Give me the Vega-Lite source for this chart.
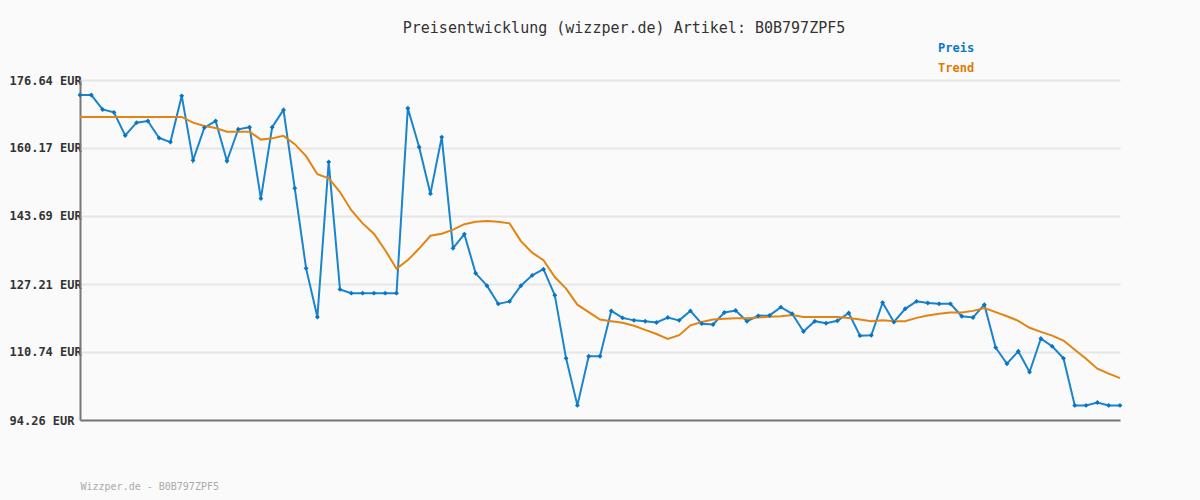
{
  "$schema": "https://vega.github.io/schema/vega-lite/v6.json",
  "width": 1040,
  "height": 340,
  "autosize": {"type": "none"},
  "padding": {"left": 80, "top": 80, "right": 80, "bottom": 80},
  "background": "#fafafa",
  "title": {
    "text": "Preisentwicklung (wizzper.de) Artikel: B0B797ZPF5",
    "font": "DejaVu Sans Mono",
    "fontSize": 15,
    "fontWeight": "normal",
    "color": "#333333",
    "anchor": "middle",
    "frame": "group",
    "baseline": "middle",
    "dx": 24,
    "offset": -1
  },
  "config": {
    "view": {"stroke": null},
    "font": "DejaVu Sans Mono"
  },
  "data": {
    "values": [
      {"i": 0, "Preis": 173.0, "Trend": 167.7},
      {"i": 1, "Preis": 173.0, "Trend": 167.7},
      {"i": 2, "Preis": 169.5, "Trend": 167.7},
      {"i": 3, "Preis": 168.8, "Trend": 167.7},
      {"i": 4, "Preis": 163.2, "Trend": 167.7},
      {"i": 5, "Preis": 166.3, "Trend": 167.7},
      {"i": 6, "Preis": 166.7, "Trend": 167.7},
      {"i": 7, "Preis": 162.6, "Trend": 167.7},
      {"i": 8, "Preis": 161.6, "Trend": 167.7},
      {"i": 9, "Preis": 172.8, "Trend": 167.7},
      {"i": 10, "Preis": 157.2, "Trend": 166.3},
      {"i": 11, "Preis": 165.1, "Trend": 165.5},
      {"i": 12, "Preis": 166.7, "Trend": 165.0},
      {"i": 13, "Preis": 157.0, "Trend": 164.1},
      {"i": 14, "Preis": 164.7, "Trend": 164.1},
      {"i": 15, "Preis": 165.2, "Trend": 164.1},
      {"i": 16, "Preis": 147.9, "Trend": 162.2},
      {"i": 17, "Preis": 165.2, "Trend": 162.5},
      {"i": 18, "Preis": 169.4, "Trend": 163.1},
      {"i": 19, "Preis": 150.4, "Trend": 161.1},
      {"i": 20, "Preis": 131.0, "Trend": 158.2},
      {"i": 21, "Preis": 119.2, "Trend": 153.8},
      {"i": 22, "Preis": 156.8, "Trend": 152.8},
      {"i": 23, "Preis": 125.9, "Trend": 149.5},
      {"i": 24, "Preis": 125.0, "Trend": 145.1},
      {"i": 25, "Preis": 125.0, "Trend": 141.9},
      {"i": 26, "Preis": 125.0, "Trend": 139.4},
      {"i": 27, "Preis": 125.0, "Trend": 135.4},
      {"i": 28, "Preis": 125.0, "Trend": 130.9},
      {"i": 29, "Preis": 169.8, "Trend": 133.0},
      {"i": 30, "Preis": 160.4, "Trend": 135.8},
      {"i": 31, "Preis": 149.1, "Trend": 138.9},
      {"i": 32, "Preis": 162.8, "Trend": 139.4},
      {"i": 33, "Preis": 135.9, "Trend": 140.4},
      {"i": 34, "Preis": 139.3, "Trend": 141.7},
      {"i": 35, "Preis": 129.8, "Trend": 142.3},
      {"i": 36, "Preis": 126.8, "Trend": 142.5},
      {"i": 37, "Preis": 122.4, "Trend": 142.3},
      {"i": 38, "Preis": 123.0, "Trend": 141.9},
      {"i": 39, "Preis": 126.8, "Trend": 137.6},
      {"i": 40, "Preis": 129.3, "Trend": 134.8},
      {"i": 41, "Preis": 130.8, "Trend": 133.0},
      {"i": 42, "Preis": 124.5, "Trend": 128.9},
      {"i": 43, "Preis": 109.2, "Trend": 126.1},
      {"i": 44, "Preis": 97.8, "Trend": 122.2},
      {"i": 45, "Preis": 109.7, "Trend": 120.4},
      {"i": 46, "Preis": 109.7, "Trend": 118.6},
      {"i": 47, "Preis": 120.7, "Trend": 118.2},
      {"i": 48, "Preis": 119.0, "Trend": 117.8},
      {"i": 49, "Preis": 118.4, "Trend": 117.1},
      {"i": 50, "Preis": 118.2, "Trend": 116.1},
      {"i": 51, "Preis": 117.9, "Trend": 115.1},
      {"i": 52, "Preis": 119.1, "Trend": 113.9},
      {"i": 53, "Preis": 118.4, "Trend": 114.8},
      {"i": 54, "Preis": 120.7, "Trend": 117.2},
      {"i": 55, "Preis": 117.6, "Trend": 118.0},
      {"i": 56, "Preis": 117.4, "Trend": 118.6},
      {"i": 57, "Preis": 120.3, "Trend": 118.8},
      {"i": 58, "Preis": 120.8, "Trend": 118.9},
      {"i": 59, "Preis": 118.2, "Trend": 118.9},
      {"i": 60, "Preis": 119.5, "Trend": 119.1},
      {"i": 61, "Preis": 119.6, "Trend": 119.3},
      {"i": 62, "Preis": 121.6, "Trend": 119.4},
      {"i": 63, "Preis": 120.0, "Trend": 119.7},
      {"i": 64, "Preis": 115.7, "Trend": 119.2},
      {"i": 65, "Preis": 118.2, "Trend": 119.2},
      {"i": 66, "Preis": 117.7, "Trend": 119.2},
      {"i": 67, "Preis": 118.3, "Trend": 119.2},
      {"i": 68, "Preis": 120.2, "Trend": 119.0},
      {"i": 69, "Preis": 114.7, "Trend": 118.6},
      {"i": 70, "Preis": 114.8, "Trend": 118.2},
      {"i": 71, "Preis": 122.7, "Trend": 118.4},
      {"i": 72, "Preis": 118.0, "Trend": 118.2},
      {"i": 73, "Preis": 121.2, "Trend": 118.2},
      {"i": 74, "Preis": 123.0, "Trend": 119.0},
      {"i": 75, "Preis": 122.6, "Trend": 119.6},
      {"i": 76, "Preis": 122.4, "Trend": 120.0},
      {"i": 77, "Preis": 122.4, "Trend": 120.3},
      {"i": 78, "Preis": 119.4, "Trend": 120.3},
      {"i": 79, "Preis": 119.1, "Trend": 120.7},
      {"i": 80, "Preis": 122.2, "Trend": 121.4},
      {"i": 81, "Preis": 111.8, "Trend": 120.4},
      {"i": 82, "Preis": 107.9, "Trend": 119.4},
      {"i": 83, "Preis": 110.9, "Trend": 118.3},
      {"i": 84, "Preis": 105.9, "Trend": 116.6},
      {"i": 85, "Preis": 114.0, "Trend": 115.6},
      {"i": 86, "Preis": 112.1, "Trend": 114.7},
      {"i": 87, "Preis": 109.2, "Trend": 113.5},
      {"i": 88, "Preis": 97.8, "Trend": 111.3},
      {"i": 89, "Preis": 97.8, "Trend": 109.1},
      {"i": 90, "Preis": 98.5, "Trend": 106.7},
      {"i": 91, "Preis": 97.8, "Trend": 105.5},
      {"i": 92, "Preis": 97.8, "Trend": 104.4}
    ]
  },
  "transform": [{"fold": ["Preis", "Trend"], "as": ["series", "value"]}],
  "encoding": {
    "x": {
      "field": "i",
      "type": "quantitative",
      "scale": {"domain": [0, 92], "nice": false, "zero": false},
      "axis": {
        "labels": false,
        "ticks": false,
        "grid": false,
        "domainColor": "#777777",
        "domainWidth": 2,
        "title": "Wizzper.de - B0B797ZPF5",
        "titleFont": "DejaVu Sans Mono",
        "titleFontSize": 10,
        "titleFontWeight": "normal",
        "titleColor": "#aaaaaa",
        "titleAnchor": "start",
        "titleAlign": "left",
        "titlePadding": 61
      }
    },
    "y": {
      "field": "value",
      "type": "quantitative",
      "scale": {"domain": [94.26, 176.64], "nice": false, "zero": false},
      "axis": {
        "values": [94.26, 110.74, 127.21, 143.69, 160.17, 176.64],
        "labelExpr": "format(datum.value, '.2f') + ' EUR'",
        "labelFont": "DejaVu Sans Mono",
        "labelFontSize": 12,
        "labelFontWeight": "bold",
        "labelColor": "#333333",
        "labelAlign": "left",
        "labelBaseline": "middle",
        "labelPadding": 71,
        "ticks": false,
        "tickSize": 0,
        "domainColor": "#777777",
        "domainWidth": 2,
        "gridColor": "#e6e6e6",
        "gridWidth": 2,
        "title": null
      }
    }
  },
  "layer": [
    {
      "mark": {"type": "line", "strokeWidth": 2},
      "encoding": {
        "color": {
          "field": "series",
          "type": "nominal",
          "scale": {"domain": ["Preis", "Trend"], "range": ["#1a84cc", "#e38412"]},
          "legend": {
            "orient": "none",
            "legendX": 846,
            "legendY": -38,
            "title": null,
            "symbolSize": 0,
            "symbolStrokeWidth": 0,
            "labelOffset": 0,
            "labelFont": "DejaVu Sans Mono",
            "labelFontSize": 12,
            "labelFontWeight": "bold",
            "rowPadding": 8,
            "encode": {
              "labels": {
                "update": {
                  "fill": {"signal": "datum.value === 'Preis' ? '#0a78c8' : '#e07b00'"}
                }
              }
            }
          }
        }
      }
    },
    {
      "transform": [{"filter": "datum.series === 'Preis'"}],
      "mark": {"type": "point", "shape": "diamond", "filled": true, "size": 24, "color": "#0a74c4", "opacity": 1}
    }
  ]
}
